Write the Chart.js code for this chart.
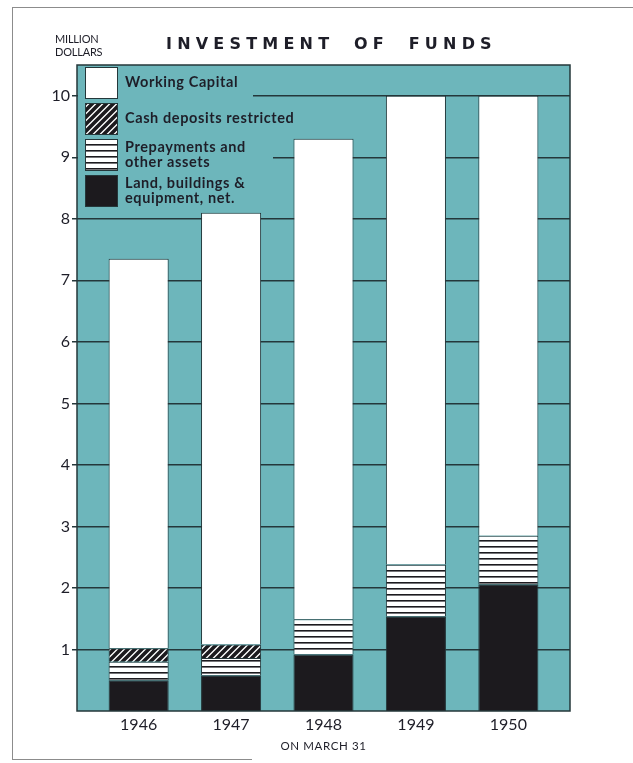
<!DOCTYPE html>
<html>
<head>
<meta charset="utf-8">
<script src="https://cdn.jsdelivr.net/npm/chart.js@4.4.0/dist/chart.umd.min.js"></script>
<style>
html,body{margin:0;padding:0;background:#fff;}
#page{position:relative;width:633px;height:763px;overflow:hidden;font-family:'Lato','Noto Sans',sans-serif;color:#1e1e28;}
#wrap{position:absolute;left:0;top:0;width:633px;height:763px;}
.line{position:absolute;background:#8c8c8c;}
#unit{position:absolute;left:55px;top:32px;font-size:11px;line-height:13px;letter-spacing:-0.2px;}
#title{position:absolute;left:166px;top:34px;font-family:'DejaVu Sans',sans-serif;font-size:16px;font-weight:bold;letter-spacing:5.2px;word-spacing:9px;white-space:nowrap;}
#note{position:absolute;left:253px;width:141px;top:739px;text-align:center;font-size:11.5px;letter-spacing:0.6px;}
</style>
</head>
<body>
<div id="page">
  <div class="line" style="left:12px;top:7px;width:1px;height:753px"></div>
  <div class="line" style="left:12px;top:7px;width:621px;height:1px"></div>
  <div class="line" style="left:12px;top:759px;width:240px;height:1px"></div>
  <div id="wrap"><canvas id="chart"></canvas></div>
  <div id="unit">MILLION<br>DOLLARS</div>
  <div id="title">INVESTMENT OF FUNDS</div>
  <div id="note">ON MARCH 31</div>
</div>
<script>
// values, million dollars, on March 31
const years = [1946, 1947, 1948, 1949, 1950];
const land = [0.50, 0.58, 0.92, 1.54, 2.06];
const prepay = [0.30, 0.28, 0.57, 0.84, 0.79];
const cash = [0.22, 0.22, null, null, null];
const working = [6.33, 7.02, 7.81, 7.62, 7.15];
const yTicks = [1, 2, 3, 4, 5, 6, 7, 8, 9, 10];

const TEAL = '#6db6bb', INK = '#1c1a1e', LINE = '#24373a';

function makePattern(w, h, paint){
  const c = document.createElement('canvas');
  c.width = w; c.height = h;
  const g = c.getContext('2d');
  g.fillStyle = '#fff'; g.fillRect(0, 0, w, h);
  paint(g, w, h);
  return g.createPattern(c, 'repeat');
}
const stripes = makePattern(8, 6, (g, w) => { g.fillStyle = INK; g.fillRect(0, 0, w, 1.6); });
const hatch = makePattern(7, 7, (g, s) => {
  g.strokeStyle = INK; g.lineWidth = 3.6; g.lineCap = 'square';
  g.beginPath();
  g.moveTo(0, s); g.lineTo(s, 0);
  g.moveTo(-s/2, s/2); g.lineTo(s/2, -s/2);
  g.moveTo(s/2, 3*s/2); g.lineTo(3*s/2, s/2);
  g.stroke();
});

const pts = arr => years.map((y, i) => ({x: y, y: arr[i]}));

// legend, top to bottom
const legendItems = [
  {fill: '#fff', lines: ['Working Capital'], y: 67},
  {fill: hatch, lines: ['Cash deposits restricted'], y: 103},
  {fill: stripes, lines: ['Prepayments and', 'other assets'], y: 139},
  {fill: INK, lines: ['Land, buildings &', 'equipment, net.'], y: 175}
];

const panel = {
  id: 'panel',
  beforeDraw(chart){
    const {ctx, chartArea: a} = chart;
    ctx.save();
    ctx.fillStyle = TEAL;
    ctx.fillRect(a.left, a.top, a.right - a.left, a.bottom - a.top);
    ctx.restore();
  },
  beforeDatasetsDraw(chart){
    const {ctx, chartArea: a} = chart;
    ctx.save();
    ctx.fillStyle = TEAL;
    ctx.fillRect(a.left + 1, a.top + 1, 252 - a.left, 128 - a.top);
    ctx.fillRect(a.left + 1, 128, 272 - a.left, 84);
    ctx.font = 'bold 14.5px Lato, "Noto Sans", sans-serif';
    ctx.letterSpacing = '0.6px';
    ctx.textBaseline = 'middle';
    legendItems.forEach(it => {
      ctx.fillStyle = it.fill;
      ctx.fillRect(85, it.y, 32, 31);
      ctx.strokeStyle = LINE; ctx.lineWidth = 1;
      ctx.strokeRect(85.5, it.y + 0.5, 32, 31);
      ctx.fillStyle = '#1e1e28';
      const y0 = it.lines.length === 1 ? it.y + 15 : it.y + 8;
      it.lines.forEach((t, k) => ctx.fillText(t, 125, y0 + k * 15));
    });
    ctx.restore();
  },
  afterDatasetsDraw(chart){
    const {ctx, chartArea: a} = chart;
    ctx.save();
    ctx.strokeStyle = LINE; ctx.lineWidth = 1.5;
    ctx.strokeRect(a.left, a.top, a.right - a.left, a.bottom - a.top);
    ctx.restore();
  }
};

const seg = {borderColor: LINE, borderWidth: 1, barPercentage: 0.65, categoryPercentage: 1};

new Chart(document.getElementById('chart'), {
  type: 'bar',
  data: {datasets: [
    Object.assign({label: 'Land, buildings & equipment, net.', data: pts(land), backgroundColor: INK}, seg),
    Object.assign({label: 'Prepayments and other assets', data: pts(prepay), backgroundColor: stripes}, seg),
    Object.assign({label: 'Cash deposits restricted', data: pts(cash), backgroundColor: hatch}, seg),
    Object.assign({label: 'Working Capital', data: pts(working), backgroundColor: '#fff'}, seg)
  ]},
  options: {
    responsive: true,
    maintainAspectRatio: false,
    animation: false,
    layout: {padding: {left: 37, top: 65, right: 63, bottom: 22}},
    scales: {
      x: {
        type: 'linear', stacked: true, offset: false,
        min: 1945.333, max: 1950.667,
        afterBuildTicks: s => { s.ticks = years.map(v => ({value: v})); },
        afterFit: s => { s.height = 30; },
        grid: {display: false, offset: false},
        border: {display: false},
        ticks: {color: '#1e1e28', padding: -4, font: {family: 'Lato', size: 16}, callback: v => String(v)}
      },
      y: {
        stacked: true, min: 0, max: 10.5,
        afterBuildTicks: s => { s.ticks = yTicks.map(v => ({value: v})); },
        afterFit: s => { s.width = 40; },
        grid: {color: LINE, lineWidth: 1.5, tickLength: 5},
        border: {display: false},
        ticks: {color: '#1e1e28', padding: 2, font: {family: 'Lato', size: 16}}
      }
    },
    plugins: {legend: {display: false}, tooltip: {enabled: false}}
  },
  plugins: [panel]
});
</script>
</body>
</html>
